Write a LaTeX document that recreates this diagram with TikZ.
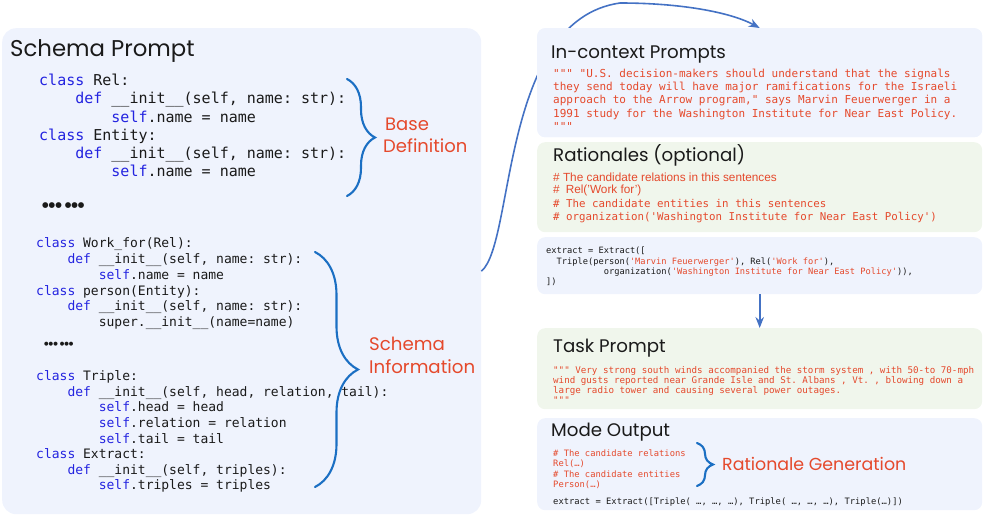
\documentclass[tikz,border=0pt]{standalone}
\usepackage{fontspec}
\setmonofont{DejaVu Sans Mono}
\newfontfamily\titlefont{Poppins}
\newfontfamily\helv{Liberation Sans}
\newfontfamily\dotfont{DejaVu Sans}
\usetikzlibrary{arrows.meta,decorations.pathreplacing}
\definecolor{boxblue}{HTML}{EFF3FD}
\definecolor{boxgreen}{HTML}{F0F6EC}
\definecolor{kwblue}{HTML}{2323E0}
\definecolor{redtxt}{HTML}{E5492C}
\definecolor{braceblue}{HTML}{1B6FC3}
\definecolor{arrowblue}{HTML}{4472C4}
\definecolor{codeblack}{HTML}{1A1A1A}
\newcommand\kw[1]{\textcolor{kwblue}{#1}}
\newcommand\rd[1]{\textcolor{redtxt}{#1}}
\newcommand\cdl[1]{\hbox{#1}}
\newcommand\codeblock[3]{\vtop{\fontsize{#1}{#2}\ttfamily\selectfont #3}}
\tikzset{
  bluebox/.style={fill=boxblue, draw=none, anchor=north west, inner sep=0pt},
  greenbox/.style={fill=boxgreen, draw=none, anchor=north west, inner sep=0pt},
  rbox/.style={rounded corners=8pt, minimum width=445pt},
  txt/.style={anchor=base west, inner sep=0pt, text=codeblack},
  title/.style={txt, font=\titlefont\fontsize{18.2}{20}\selectfont},
  redlabel/.style={anchor=base west, inner sep=0pt, text=redtxt},
  conn/.style={draw=arrowblue, line width=1.6pt, -{Stealth[length=11pt,width=8.5pt]}},
  curly/.style={draw=braceblue, line width=2.1pt, decorate, line cap=round},
}
\begin{document}
\begin{tikzpicture}[x=1pt,y=-1pt]
\useasboundingbox (0,0) rectangle (983,516);
\node[bluebox, rounded corners=14pt, minimum width=479pt, minimum height=486pt] (schema) at (2,28) {};
% the curve runs behind the In-context box
\node[bluebox, rbox, minimum height=109pt] (incontext) at (537,28) {};
\draw[conn] (schema.east) .. controls (515,243) and (500,20) .. (620,3)
   .. controls (680,3) and (730,12) .. (incontext.north);
\node[bluebox, rbox, minimum height=109pt] (incontextfg) at (537,28) {};
\node[greenbox, rbox, minimum height=90pt] (rationale) at (537,142) {};
\node[bluebox, rbox, minimum height=57pt] (extractbox) at (537,237) {};
\node[greenbox, rbox, minimum height=81pt] (task) at (537,328) {};
\node[bluebox, rbox, minimum height=92pt] (mode) at (537,418) {};
\draw[conn] (extractbox.south) -- (task.north);

% ---------- left panel ----------
\node[txt, font=\titlefont\fontsize{22.8}{25}\selectfont] (t-schema) at (10,57) {Schema Prompt};
\node[txt] (code1) at (39,85.7) {\codeblock{15}{18.2}{%
\cdl{\kw{class} Rel:}
\cdl{~~~~\kw{def} \_\_init\_\_(self, name: str):}
\cdl{~~~~~~~~\kw{self}.name = name}
\cdl{\kw{class} Entity:}
\cdl{~~~~\kw{def} \_\_init\_\_(self, name: str):}
\cdl{~~~~~~~~\kw{self}.name = name}}};
\node[txt, font=\dotfont\fontsize{7.5}{8}\selectfont] (dots1) at (42,207.5) {●●●\hspace{3pt}●●●};
\node[txt] (code2) at (36,247.7) {\codeblock{13}{15.8}{%
\cdl{\kw{class} Work\_for(Rel):}
\cdl{~~~~\kw{def} \_\_init\_\_(self, name: str):}
\cdl{~~~~~~~~\kw{self}.name = name}
\cdl{\kw{class} person(Entity):}
\cdl{~~~~\kw{def} \_\_init\_\_(self, name: str):}
\cdl{~~~~~~~~super.\_\_init\_\_(name=name)}}};
\node[txt, font=\dotfont\fontsize{5.2}{6}\selectfont] (dots2) at (44,345) {●●●\hspace{2pt}●●●};
\node[txt] (code3) at (36,380.7) {\codeblock{13}{15.6}{%
\cdl{\kw{class} Triple:}
\cdl{~~~~\kw{def} \_\_init\_\_(self, head, relation, tail):}
\cdl{~~~~~~~~\kw{self}.head = head}
\cdl{~~~~~~~~\kw{self}.relation = relation}
\cdl{~~~~~~~~\kw{self}.tail = tail}
\cdl{\kw{class} Extract:}
\cdl{~~~~\kw{def} \_\_init\_\_(self, triples):}
\cdl{~~~~~~~~\kw{self}.triples = triples}}};

\coordinate (bA1) at (347,79);
\coordinate (bA2) at (347,196);
\draw[curly, decoration={brace, amplitude=28pt}] (bA1) -- (bA2);
\node[redlabel, font=\titlefont\fontsize{18}{20}\selectfont] (l-base) at (385,131) {Base};
\node[redlabel, font=\titlefont\fontsize{18}{20}\selectfont] (l-def) at (383,153) {Definition};
\coordinate (bB1) at (315,252);
\coordinate (bB2) at (315,487);
\draw[curly, decoration={brace, amplitude=43pt}] (bB1) -- (bB2);
\node[redlabel, font=\titlefont\fontsize{18.2}{21}\selectfont] (l-schema) at (369,350) {Schema};
\node[redlabel, font=\titlefont\fontsize{18.2}{21}\selectfont] (l-info) at (369,373) {Information};

% ---------- right panel ----------
\node[title] (t-incontext) at (551,59) {In-context Prompts};
\node[txt, text=redtxt] (c-incontext) at (553,77.5) {\codeblock{11}{13.2}{%
\cdl{""" "U.S. decision-makers should understand that the signals}
\cdl{they send today will have major ramifications for the Israeli}
\cdl{approach to the Arrow program," says Marvin Feuerwerger in a}
\cdl{1991 study for the Washington Institute for Near East Policy.}
\cdl{"""}}};

\node[title] (t-rationale) at (553,161) {Rationales (optional)};
\node[txt, text=redtxt, font=\helv\fontsize{11.8}{12}\selectfont] (r1) at (553,181.7) {\# The candidate relations in this sentences};
\node[txt, text=redtxt, font=\helv\fontsize{11.8}{12}\selectfont] (r2) at (553,193.5) {\#\hspace{6pt}Rel(’Work for’)};
\node[txt, text=redtxt] (r34) at (553,207.7) {\codeblock{10.8}{12.6}{%
\cdl{\# The candidate entities in this sentences}
\cdl{\# organization('Washington Institute for Near East Policy')}}};

\node[txt] (c-extract) at (546,253.7) {\codeblock{8.7}{10.3}{%
\cdl{extract = Extract([}
\cdl{~~Triple(person(\rd{'Marvin Feuerwerger'}), Rel(\rd{'Work for'}),}
\cdl{~~~~~~~~~~~organization(\rd{'Washington Institute for Near East Policy'})),}
\cdl{])}}};

\node[title] (t-task) at (553,352) {Task Prompt};
\node[txt, text=redtxt] (c-task) at (553,373) {\codeblock{9.2}{10.2}{%
\cdl{""" Very strong south winds accompanied the storm system , with 50-to 70-mph}
\cdl{wind gusts reported near Grande Isle and St. Albans , Vt. , blowing down a}
\cdl{large radio tower and causing several power outages.}
\cdl{"""}}};

\node[title] (t-mode) at (551,436) {Mode Output};
\node[txt, text=redtxt] (c-mode) at (553,456) {\codeblock{8.8}{10.5}{%
\cdl{\# The candidate relations}
\cdl{Rel(…)}
\cdl{\# The candidate entities}
\cdl{Person(…)}}};
\node[txt] (c-mode2) at (553,504) {\codeblock{8.8}{10.5}{%
\cdl{extract = Extract([Triple( …, …, …), Triple( …, …, …), Triple(…)])}}};
\coordinate (bC1) at (697,443);
\coordinate (bC2) at (697,486);
\draw[curly, decoration={brace, amplitude=16pt}] (bC1) -- (bC2);
\node[redlabel, font=\titlefont\fontsize{17.4}{20}\selectfont] (l-rat) at (722,470) {Rationale Generation};
\end{tikzpicture}
\end{document}
